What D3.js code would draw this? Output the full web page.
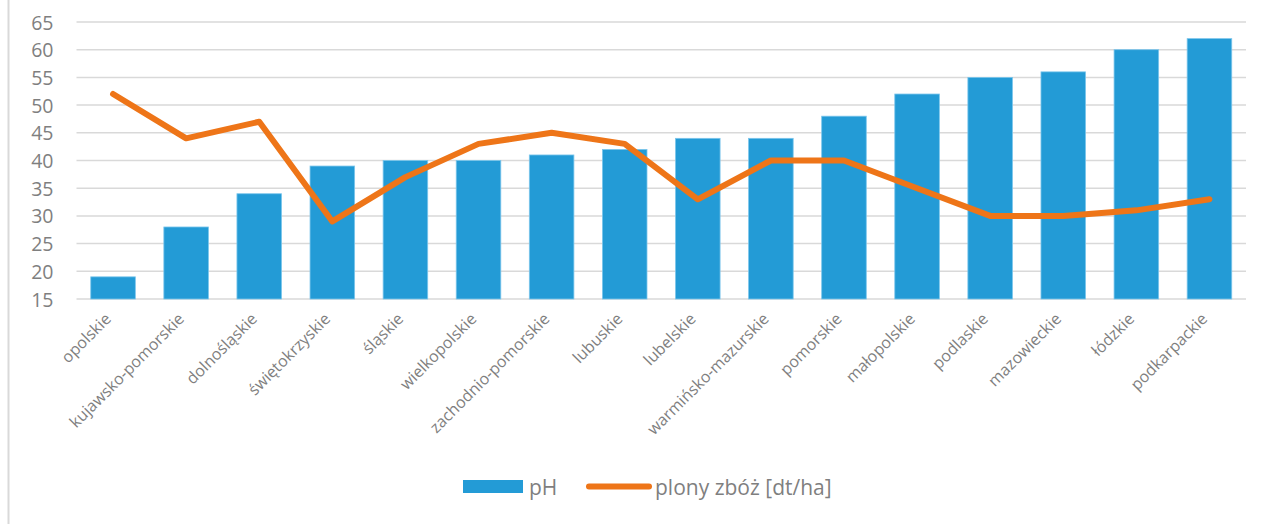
<!DOCTYPE html>
<html>
<head>
<meta charset="utf-8">
<script src="https://cdn.jsdelivr.net/npm/d3@7"></script>
<style>
  html, body { margin: 0; padding: 0; background: #fff; }
  svg { display: block; font-family: "Open Sans", sans-serif; }
</style>
</head>
<body>
<svg id="chart" width="1265" height="524"></svg>
<script>
const categories = ["opolskie","kujawsko-pomorskie","dolnośląskie","świętokrzyskie","śląskie","wielkopolskie","zachodnio-pomorskie","lubuskie","lubelskie","warmińsko-mazurskie","pomorskie","małopolskie","podlaskie","mazowieckie","łódzkie","podkarpackie"];
const phValues = [19,28,34,39,40,40,41,42,44,44,48,52,55,56,60,62];
const yieldValues = [52,44,47,29,37,43,45,43,33,40,40,35,30,30,31,33];
const yTicks = [15,20,25,30,35,40,45,50,55,60,65];
const seriesNames = ["pH","plony zbóż [dt/ha]"];

const svg = d3.select("#chart");
const W = 1265, H = 524;
const margin = {left: 76.5, right: 19, top: 22, bottom: 225};

// frame left line
svg.append("line").attr("x1", 8.5).attr("x2", 8.5).attr("y1", 0).attr("y2", H)
  .attr("stroke", "#d9d9d9").attr("stroke-width", 2);

const x = d3.scaleBand().domain(categories).range([margin.left, W - margin.right]).paddingInner(0.39).paddingOuter(0.195);
const y = d3.scaleLinear().domain([15, 65]).range([H - margin.bottom, margin.top]);

// grid
const grid = svg.append("g");
grid.selectAll("line").data(yTicks).join("line")
  .attr("x1", margin.left).attr("x2", W - margin.right)
  .attr("y1", d => y(d)).attr("y2", d => y(d))
  .attr("stroke", "#d9d9d9").attr("stroke-width", 1.5);

// y axis labels
const yAxis = d3.axisLeft(y).tickValues(yTicks).tickSize(0).tickPadding(0);
const yg = svg.append("g").attr("transform", `translate(${margin.left - 23},0)`).call(yAxis);
yg.select(".domain").remove();
yg.selectAll("text").attr("font-size", 19.5).attr("fill", "#7f7f7f").attr("font-family", "'Open Sans', sans-serif").attr("dy", "0.36em");

// bars
svg.append("g").selectAll("rect").data(categories).join("rect")
  .attr("x", d => x(d))
  .attr("width", x.bandwidth())
  .attr("y", (d, i) => y(phValues[i]))
  .attr("height", (d, i) => y(15) - y(phValues[i]))
  .attr("fill", "#239bd6")
  .attr("stroke", "#7cc6ec").attr("stroke-width", 0.8);

// line
const line = d3.line()
  .x((d, i) => x(categories[i]) + x.bandwidth() / 2)
  .y(d => y(d));
svg.append("path").datum(yieldValues)
  .attr("d", line)
  .attr("fill", "none")
  .attr("stroke", "#ee7518")
  .attr("stroke-width", 6)
  .attr("stroke-linejoin", "round")
  .attr("stroke-linecap", "round");

// x axis labels
const xAxis = d3.axisBottom(x).tickSize(0).tickPadding(0);
const xg = svg.append("g").attr("transform", `translate(0,${y(15)})`).call(xAxis);
xg.select(".domain").remove();
xg.selectAll("text")
  .attr("font-size", 16)
  .attr("fill", "#7f7f7f")
  .attr("font-family", "'Open Sans', sans-serif")
  .attr("text-anchor", "end")
  .attr("y", null)
  .attr("transform", "translate(-5,17) rotate(-45)")
  .attr("x", 0)
  .attr("dy", "0.35em");

// legend
const lg = svg.append("g");
lg.append("rect").attr("x", 463).attr("y", 480).attr("width", 60).attr("height", 13).attr("fill", "#239bd6");
lg.append("text").attr("x", 529).attr("y", 494.5).attr("font-size", 21).attr("fill", "#7f7f7f").text(seriesNames[0]);
lg.append("line").attr("x1", 589).attr("x2", 649).attr("y1", 486.5).attr("y2", 486.5)
  .attr("stroke", "#ee7518").attr("stroke-width", 6).attr("stroke-linecap", "round");
lg.append("text").attr("x", 655).attr("y", 494.5).attr("font-size", 21).attr("fill", "#7f7f7f").text(seriesNames[1]);
</script>
</body>
</html>
